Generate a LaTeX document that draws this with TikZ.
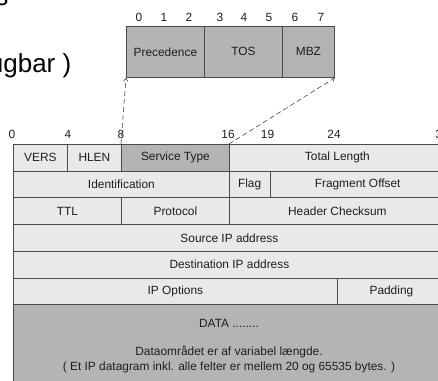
\documentclass[tikz,border=0pt]{standalone}
\usepackage{fontspec}
\setmainfont{Liberation Sans}
\usetikzlibrary{arrows.meta}
\definecolor{lightc}{HTML}{E9E9E9}
\definecolor{darkc}{HTML}{B4B4B4}
\definecolor{linec}{HTML}{4A4A4A}
\definecolor{textc}{HTML}{1E1E1E}
\begin{document}
\begin{tikzpicture}[x=1pt,y=-1pt,
  cell/.style={draw=linec, line width=0.8pt, fill=lightc, rectangle, inner sep=0pt,
    anchor=north west, minimum height=26.7pt, text=textc,
    font=\fontsize{11.9}{13}\selectfont},
  darkcell/.style={cell, fill=darkc},
  bitlab/.style={inner sep=0pt, text=textc, font=\fontsize{11.9}{13}\selectfont},
  bigtext/.style={inner sep=0pt, anchor=base east, text=black, font=\fontsize{26}{30}\selectfont},
  zoomline/.style={draw=linec, line width=0.6pt, dash pattern=on 5pt off 3pt,
    -{Straight Barb[length=3pt,width=4.5pt]}}]
\useasboundingbox (0,0) rectangle (438,380);
% fragments of large text
\node[bigtext] (fragA) at (8.5,5.5) {s};
\node[bigtext] (fragB) at (71.5,72) {ugbar )};
% top box
\node[darkcell, minimum width=78pt, minimum height=51pt] (prec) at (126,26) {Precedence};
\node[darkcell, minimum width=78pt, minimum height=51pt] (tos) at (204,26) {TOS};
\node[darkcell, minimum width=52pt, minimum height=51pt] (mbz) at (282,26) {MBZ};
\foreach \lab/\xx in {0/139,1/164,2/189,3/220,4/244,5/269,6/295,7/321}
  \node[bitlab] (tb\lab) at (\xx,17) {\lab};
% bit labels of main table
\foreach \lab/\xx in {0/12,4/68,8/121,16/228,19/267.5,24/334,32/442}
  \node[bitlab] (mb\lab) at (\xx,134) {\lab};
% row 1
\node[cell, minimum width=54pt] (vers) at (13,144) {VERS};
\node[cell, minimum width=54pt] (hlen) at (67,144) {HLEN};
\node[darkcell, minimum width=108pt] (stype) at (121,144) {Service Type};
\node[cell, minimum width=216pt] (tlen) at (229,144) {Total Length};
% row 2
\node[cell, minimum width=216pt] (ident) at (13,170.7) {Identification};
\node[cell, minimum width=40.5pt] (flag) at (229,170.7) {Flag};
\node[cell, minimum width=175.5pt] (frag) at (269.5,170.7) {Fragment Offset};
% row 3
\node[cell, minimum width=108pt] (ttl) at (13,197.4) {TTL};
\node[cell, minimum width=108pt] (proto) at (121,197.4) {Protocol};
\node[cell, minimum width=216pt] (hcs) at (229,197.4) {Header Checksum};
% rows 4-6
\node[cell, minimum width=432pt] (src) at (13,224.1) {Source IP address};
\node[cell, minimum width=432pt] (dst) at (13,250.8) {Destination IP address};
\node[cell, minimum width=324pt] (opt) at (13,277.5) {IP Options};
\node[cell, minimum width=108pt] (pad) at (337,277.5) {Padding};
% data
\node[darkcell, minimum width=432pt, minimum height=100pt] (data) at (13,304.2) {};
\node[bitlab] (datat) at (229,323) {DATA ........};
\node[bitlab, align=center, font=\fontsize{11.9}{14.5}\selectfont] (datad) at (229,359.5)
  {Dataområdet er af variabel længde.\\( Et IP datagram inkl. alle felter er mellem 20 og 65535 bytes. )};
% zoom lines
\draw[zoomline] (stype.north west) -- (prec.south west);
\draw[zoomline] (tlen.north west) -- (mbz.south east);
\end{tikzpicture}
\end{document}
